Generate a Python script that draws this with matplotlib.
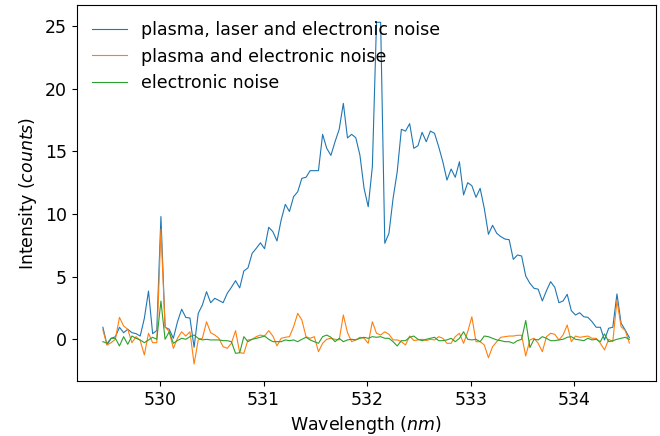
import matplotlib
matplotlib.use("Agg")
import matplotlib.pyplot as plt
import numpy as np

# wavelength grid of the spectrometer (nm), evenly spaced pixels
wl_first = 529.45
wl_last = 534.53

# plasma, laser and electronic noise
full_signal = [
    0.96, -0.45, 0.08, 0.20, 0.96, 0.53, 0.80, 0.53, 0.45, 0.26,
    1.67, 3.85, 0.45, 0.70, 9.80, 0.96, 0.80, 0.08, 1.40, 2.40,
    1.75, 1.70, -0.64, 2.07, 2.74, 3.80, 2.92, 3.27, 3.10, 2.92,
    3.67, 4.15, 4.68, 4.10, 5.45, 5.70, 6.86, 7.26, 7.70, 7.23,
    8.94, 8.59, 7.85, 9.52, 10.77, 10.20, 11.38, 11.78, 12.85, 12.93,
    13.46, 13.46, 13.46, 16.36, 15.24, 14.68, 15.77, 16.76, 18.83, 16.07,
    16.36, 16.09, 14.70, 12.05, 10.58, 13.77, 25.30, 25.30, 7.66, 8.46,
    11.25, 13.38, 16.76, 16.62, 17.21, 15.24, 15.45, 16.52, 15.77, 16.62,
    16.44, 15.37, 14.17, 12.71, 13.59, 12.93, 14.17, 11.52, 12.50, 12.26,
    11.33, 12.05, 10.45, 8.38, 9.10, 8.46, 8.19, 8.00, 7.95, 6.38,
    6.73, 6.65, 5.05, 4.47, 4.07, 4.00, 3.06, 3.88, 4.60, 4.15,
    2.92, 3.06, 3.59, 2.28, 1.94, 2.12, 1.80, 1.75, 1.40, 0.96,
    0.96, -0.05, 0.88, 0.96, 3.62, 1.28, 0.74, 0.13,
]

# plasma and electronic noise
plasma_noise = [
    0.74, -0.45, -0.27, 0.00, 1.75, 1.06, 0.80, -0.27, 0.21, -0.10,
    -1.25, 0.48, -0.27, -0.27, 8.78, 1.00, 0.60, -0.72, 0.08, 0.60,
    0.26, 0.60, -1.97, -0.05, 0.08, 1.40, 0.53, 0.34, 0.08, -0.59,
    -0.72, -0.32, 0.69, -1.07, -1.12, -0.05, 0.00, 0.21, 0.34, 0.26,
    0.69, 0.26, -0.53, 0.08, 0.16, 0.21, 1.00, 2.07, 1.54, 0.21,
    0.08, 0.21, -0.99, -0.32, 0.00, 0.08, 0.00, -0.05, 1.94, 0.53,
    -0.19, -0.05, 0.16, 0.08, -0.32, 1.40, 0.48, 0.34, 0.60, 0.40,
    -0.05, -0.05, -0.19, -0.45, 0.26, -0.10, -0.05, 0.00, -0.10, 0.00,
    -0.05, 0.21, 0.08, -0.32, -0.32, 0.21, 0.48, -0.32, 0.60, 1.80,
    -0.19, -0.19, -0.45, -1.47, -0.59, -0.19, 0.16, 0.21, 0.26, 0.26,
    0.32, 0.32, -1.33, -0.05, 0.08, -0.32, -0.99, 0.21, 0.48, 0.40,
    -0.05, 0.34, 1.14, -0.19, 0.26, 0.16, 0.21, 0.26, 0.08, 0.08,
    -0.32, -0.85, 0.00, -0.19, 3.10, 1.00, 0.70, -0.30,
]

# electronic noise only
electronic_noise = [
    -0.19, -0.32, 0.08, 0.08, -0.53, 0.21, -0.40, 0.26, 0.08, -0.05,
    -0.27, -0.05, 0.16, 0.00, 3.05, 0.00, 0.60, -0.32, -0.10, 0.08,
    0.00, 0.21, 0.34, 0.08, -0.05, 0.00, -0.05, -0.05, -0.05, -0.11,
    -0.11, -0.19, -1.12, -1.07, 0.21, -0.19, 0.00, 0.08, 0.16, 0.26,
    0.00, -0.19, -0.19, -0.19, -0.05, -0.11, -0.05, -0.19, 0.00, 0.16,
    -0.05, -0.19, -0.32, 0.21, 0.34, 0.16, -0.19, 0.08, -0.19, -0.05,
    0.00, -0.05, 0.08, 0.16, 0.08, 0.21, 0.16, 0.21, 0.08, 0.08,
    -0.19, -0.53, -0.11, -0.11, 0.16, 0.26, 0.00, -0.11, 0.00, 0.08,
    0.16, -0.11, -0.11, -0.05, 0.08, -0.19, 0.08, 0.60, 0.00, -0.05,
    0.00, -0.19, 0.26, 0.21, 0.08, -0.05, -0.11, -0.19, -0.19, -0.32,
    -0.11, 0.00, 1.50, -0.66, 0.00, -0.05, 0.21, 0.08, -0.11, -0.11,
    -0.05, 0.00, 0.16, 0.21, 0.00, -0.05, -0.11, 0.08, -0.05, 0.00,
    -0.19, 0.43, -0.19, -0.11, 0.00, 0.08, 0.16, 0.00,
]

labels = ['plasma, laser and electronic noise',
          'plasma and electronic noise',
          'electronic noise']


def main():
    wl = np.linspace(wl_first, wl_last, len(full_signal))

    plt.rcParams['font.size'] = 12.5
    fig, ax = plt.subplots(figsize=(6.6, 4.36), dpi=100)
    fig.subplots_adjust(left=0.116, right=0.9935, top=0.988, bottom=0.126)

    ax.plot(wl, full_signal, lw=0.8, label=labels[0])
    ax.plot(wl, plasma_noise, lw=0.8, label=labels[1])
    ax.plot(wl, electronic_noise, lw=0.8, label=labels[2])

    ax.set_xlabel('Wavelength ($nm$)')
    ax.set_ylabel('Intensity ($counts$)')
    ax.legend(loc='upper left', frameon=False)

    fig.savefig('out.png', dpi=100)


if __name__ == '__main__':
    main()
